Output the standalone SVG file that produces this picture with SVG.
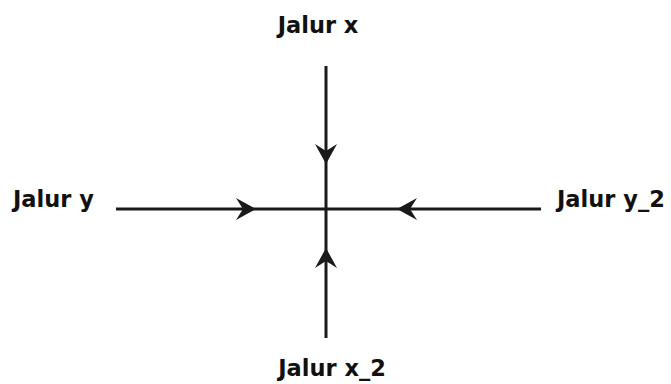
<svg xmlns="http://www.w3.org/2000/svg" width="671" height="384" viewBox="0 0 671 384">
<style>
.lbl{font-family:"DejaVu Sans","Liberation Sans",sans-serif;font-weight:bold;font-size:22.5px;fill:#111}
.ln{stroke:#1a1a1a;stroke-width:3;fill:none;marker-mid:url(#ah)}
</style>
<defs>
<marker id="ah" viewBox="-22 -12 24 24" markerWidth="24" markerHeight="24" refX="0" refY="0" orient="auto" markerUnits="userSpaceOnUse">
<path d="M0,0 L-20,-11 L-13,0 L-20,11 Z" fill="#1a1a1a"/>
</marker>
</defs>
<rect width="671" height="384" fill="#fff"/>
<g id="connectors">
<path class="ln" d="M326,66 L326,164 L326,209"/>
<path class="ln" d="M326,338 L326,248 L326,209"/>
<path class="ln" d="M116,209 L256,209 L326,209"/>
<path class="ln" d="M541,209 L397,209 L326,209"/>
</g>
<g id="jalur-x"><text class="lbl" x="318" y="33" text-anchor="middle">Jalur x</text></g>
<g id="jalur-x2"><text class="lbl" x="332" y="376" text-anchor="middle">Jalur x_2</text></g>
<g id="jalur-y"><text class="lbl" x="13" y="207">Jalur y</text></g>
<g id="jalur-y2"><text class="lbl" x="557" y="207">Jalur y_2</text></g>
</svg>
